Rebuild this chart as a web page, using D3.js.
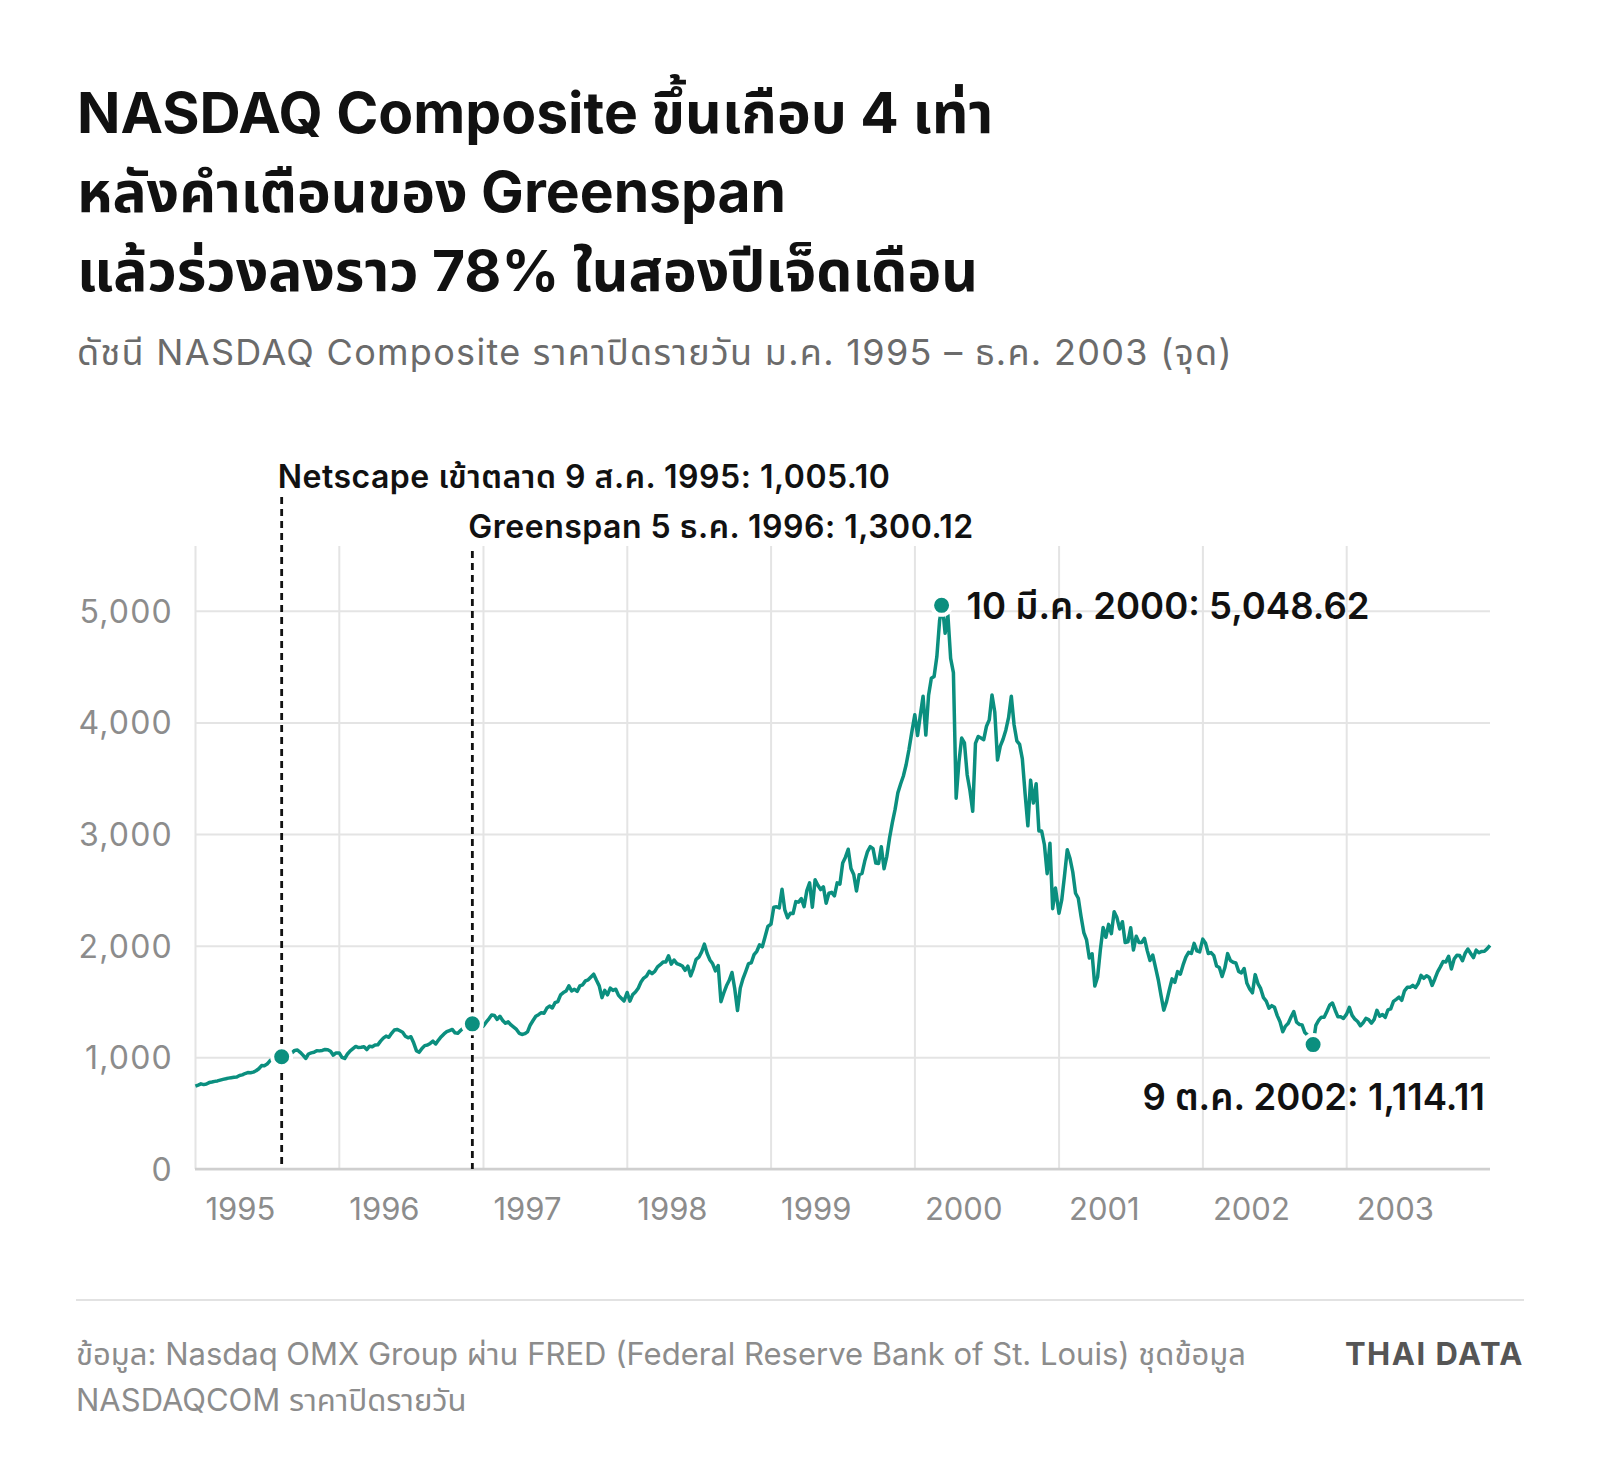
<!DOCTYPE html>
<html>
<head>
<meta charset="utf-8">
<script src="https://cdn.jsdelivr.net/npm/d3@7"></script>
<style>
  html, body { margin: 0; padding: 0; background: #fff; }
  svg text { font-family: Inter, "Noto Sans", "Noto Sans Thai", sans-serif; }
</style>
</head>
<body>
<svg id="chart" width="1600" height="1478"></svg>
<script>
// weekly closes, one value per week starting 2 Jan of each year
const years = [1995, 1996, 1997, 1998, 1999, 2000, 2001, 2002, 2003];
const w1995 = [743, 752, 763, 756, 761, 774, 779, 785, 789, 796, 803, 808, 814, 818, 822, 824, 838, 843, 855, 864, 862, 868, 880, 898, 926, 925,
  940, 968, 990, 978, 1001, 1004, 1005, 1012, 1020, 1040, 1062, 1066, 1045, 1020, 990, 1030, 1040, 1045, 1060, 1058, 1062, 1070, 1068, 1055, 1020, 1040];
const w1996 = [1040, 1000, 990, 1030, 1058, 1078, 1098, 1088, 1090, 1095, 1070, 1100, 1095, 1110, 1112, 1145, 1172, 1190, 1180, 1215, 1245, 1250, 1238, 1225, 1190, 1175,
  1185, 1130, 1060, 1045, 1080, 1105, 1110, 1125, 1145, 1120, 1155, 1185, 1210, 1230, 1240, 1250, 1220, 1215, 1240, 1262, 1280, 1290, 1300, 1270, 1265, 1295];
const w1997 = [1280, 1315, 1345, 1380, 1375, 1340, 1368, 1330, 1305, 1318, 1290, 1270, 1250, 1215, 1205, 1212, 1228, 1290, 1330, 1368, 1382, 1400, 1395, 1440, 1460, 1442,
  1490, 1500, 1560, 1580, 1594, 1640, 1595, 1610, 1590, 1640, 1650, 1685, 1695, 1720, 1745, 1690, 1640, 1535, 1600, 1560, 1620, 1600, 1610, 1555, 1530, 1505];
const w1998 = [1581, 1503, 1562, 1585, 1619, 1675, 1710, 1728, 1771, 1750, 1770, 1810, 1830, 1853, 1854, 1910, 1835, 1872, 1840, 1830, 1818, 1779, 1817, 1730, 1795, 1878,
  1897, 1945, 2014, 1930, 1872, 1838, 1775, 1823, 1499, 1575, 1641, 1690, 1760, 1614, 1419, 1620, 1706, 1771, 1840, 1847, 1920, 1950, 2008, 1990, 2080, 2172];
const w1999 = [2193, 2344, 2348, 2339, 2505, 2321, 2250, 2290, 2288, 2395, 2390, 2421, 2350, 2493, 2563, 2345, 2591, 2542, 2503, 2527, 2380, 2470, 2478, 2447, 2563, 2552,
  2741, 2793, 2864, 2692, 2638, 2490, 2637, 2648, 2758, 2843, 2887, 2869, 2740, 2736, 2887, 2690, 2801, 2967, 3102, 3221, 3369, 3448, 3520, 3621, 3753, 3904];
const w2000 = [4069, 3882, 4064, 4235, 3887, 4244, 4395, 4411, 4590, 4914, 5048, 4798, 4963, 4573, 4446, 3321, 3643, 3860, 3817, 3529, 3390, 3205, 3813, 3874, 3860, 3845,
  3966, 4023, 4246, 4094, 3663, 3787, 3849, 3930, 4042, 4234, 3979, 3835, 3803, 3673, 3361, 3074, 3483, 3278, 3451, 3028, 3027, 2904, 2645, 2917, 2332, 2517];
const w2001 = [2291, 2410, 2626, 2859, 2781, 2660, 2470, 2425, 2262, 2118, 2052, 1890, 1928, 1638, 1720, 1962, 2163, 2075, 2191, 2108, 2305, 2252, 2150, 2215, 2028, 2035,
  2160, 1962, 2084, 2029, 2029, 2066, 1956, 1867, 1916, 1805, 1695, 1555, 1423, 1499, 1605, 1703, 1671, 1768, 1745, 1828, 1898, 1941, 1930, 2021, 1953, 1945];
const w2002 = [2059, 2022, 1930, 1938, 1911, 1818, 1805, 1724, 1802, 1929, 1868, 1852, 1845, 1770, 1756, 1796, 1663, 1613, 1578, 1741, 1661, 1615, 1535, 1504, 1440, 1463,
  1448, 1374, 1319, 1229, 1280, 1306, 1361, 1410, 1315, 1295, 1291, 1222, 1199, 1139, 1114, 1287, 1331, 1360, 1359, 1411, 1468, 1487, 1422, 1363, 1363, 1348];
const w2003 = [1387, 1448, 1376, 1342, 1321, 1283, 1310, 1349, 1338, 1306, 1340, 1421, 1369, 1384, 1358, 1425, 1434, 1502, 1520, 1539, 1511, 1596, 1627, 1627, 1645, 1625,
  1664, 1734, 1708, 1731, 1715, 1644, 1702, 1765, 1810, 1858, 1855, 1905, 1792, 1880, 1915, 1912, 1865, 1932, 1970, 1930, 1893, 1960, 1937, 1949, 1951, 1974, 2003];
const weekly = [w1995, w1996, w1997, w1998, w1999, w2000, w2001, w2002, w2003];

const yTicks = [0, 1000, 2000, 3000, 4000, 5000];
const xTickYears = [1995, 1996, 1997, 1998, 1999, 2000, 2001, 2002, 2003];

const eventDates = ["1995-08-09", "1996-12-05"];
const eventValues = [1005.10, 1300.12];
const eventLabels = ["Netscape เข้าตลาด 9 ส.ค. 1995: 1,005.10", "Greenspan 5 ธ.ค. 1996: 1,300.12"];

const extremeDates = ["2000-03-10", "2002-10-09"];
const extremeValues = [5048.62, 1114.11];
const extremeLabels = ["10 มี.ค. 2000: 5,048.62", "9 ต.ค. 2002: 1,114.11"];

const titleLines = ["NASDAQ Composite ขึ้นเกือบ 4 เท่า", "หลังคำเตือนของ Greenspan", "แล้วร่วงลงราว 78% ในสองปีเจ็ดเดือน"];
const subtitle = "ดัชนี NASDAQ Composite ราคาปิดรายวัน ม.ค. 1995 – ธ.ค. 2003 (จุด)";
const sourceLines = ["ข้อมูล: Nasdaq OMX Group ผ่าน FRED (Federal Reserve Bank of St. Louis) ชุดข้อมูล", "NASDAQCOM ราคาปิดรายวัน"];
const brand = "THAI DATA";

const parseDate = d3.timeParse("%Y-%m-%d");
let series = [];
years.forEach((yr, k) => {
  weekly[k].forEach((v, i) => series.push({ date: new Date(yr, 0, 2 + 7 * i), value: v }));
});

const svg = d3.select("#chart");
const teal = "#0b8f7f";
const margin = { top: 546, right: 110, bottom: 309, left: 195 };
const width = +svg.attr("width");
const height = +svg.attr("height");
const innerWidth = width - margin.left - margin.right;
const innerHeight = height - margin.top - margin.bottom;

// titles
svg.append("g").selectAll("text")
  .data(titleLines).enter().append("text")
  .attr("x", 77)
  .attr("y", (d, i) => 133 + i * 79)
  .attr("font-size", 57)
  .attr("font-weight", 700)
  .attr("fill", "#111")
  .text(d => d);

svg.append("text")
  .attr("x", 77).attr("y", 365)
  .attr("font-size", 36)
  .attr("letter-spacing", 1.3)
  .attr("fill", "#6b6b6b")
  .text(subtitle);

const g = svg.append("g").attr("transform", `translate(${margin.left},${margin.top})`);

const x = d3.scaleTime()
  .domain([new Date(1995, 0, 1), new Date(2004, 0, 1)])
  .range([0, innerWidth]);
const y = d3.scaleLinear()
  .domain([0, 5580])
  .range([innerHeight, 0]);

// y gridlines + labels
const yAxis = g.append("g")
  .call(d3.axisLeft(y).tickValues(yTicks).tickSize(-innerWidth).tickPadding(22).tickFormat(d3.format(",")));
yAxis.select(".domain").remove();
yAxis.selectAll(".tick line").attr("stroke", "#e4e4e4").attr("stroke-width", 2);
yAxis.selectAll(".tick text")
  .attr("font-size", 32).attr("letter-spacing", 1.2).attr("fill", "#8c8c8c")
  .attr("dy", "0.36em");

// x gridlines + labels
const xAxis = g.append("g")
  .attr("transform", `translate(0,${innerHeight})`)
  .call(d3.axisBottom(x).tickValues(xTickYears.map(yr => new Date(yr, 0, 1))).tickSize(-innerHeight).tickFormat(d3.timeFormat("%Y")));
xAxis.select(".domain").remove();
xAxis.selectAll(".tick line").attr("stroke", "#e4e4e4").attr("stroke-width", 2);
xAxis.selectAll(".tick text")
  .attr("font-size", 31).attr("fill", "#8c8c8c")
  .attr("text-anchor", "start")
  .attr("x", 10).attr("y", 51).attr("dy", 0);

// baseline
g.append("line")
  .attr("x1", 0).attr("x2", innerWidth)
  .attr("y1", y(0)).attr("y2", y(0))
  .attr("stroke", "#cfcfcf").attr("stroke-width", 2.5);

// event lines
const eventTops = [-49, 5];
const eventLabelY = [-58, -8];
eventDates.forEach((d, i) => {
  const ex = x(parseDate(d));
  g.append("line")
    .attr("x1", ex).attr("x2", ex)
    .attr("y1", eventTops[i]).attr("y2", y(0))
    .attr("stroke", "#111").attr("stroke-width", 2.8)
    .attr("stroke-dasharray", "7,5");
  g.append("text")
    .attr("x", ex - 4).attr("y", eventLabelY[i])
    .attr("font-size", 32).attr("font-weight", 600).attr("letter-spacing", 0.5).attr("fill", "#111")
    .text(eventLabels[i]);
});

// the index line
const line = d3.line()
  .x(d => x(d.date))
  .y(d => y(d.value));
g.append("path")
  .datum(series)
  .attr("fill", "none")
  .attr("stroke", teal)
  .attr("stroke-width", 3.5)
  .attr("stroke-linejoin", "round")
  .attr("d", line);

// dots
const dots = eventDates.map((d, i) => ({ date: parseDate(d), value: eventValues[i] }))
  .concat(extremeDates.map((d, i) => ({ date: parseDate(d), value: extremeValues[i] })));
g.selectAll("circle.mark")
  .data(dots).enter().append("circle")
  .attr("class", "mark")
  .attr("cx", d => x(d.date))
  .attr("cy", d => y(d.value))
  .attr("r", 9.5)
  .attr("fill", teal)
  .attr("stroke", "#fff")
  .attr("stroke-width", 4);

// peak and trough labels
const pk = { x: x(parseDate(extremeDates[0])), y: y(extremeValues[0]) };
g.append("text")
  .attr("x", pk.x + 25).attr("y", pk.y + 14)
  .attr("font-size", 36.5).attr("font-weight", 600).attr("fill", "#111")
  .text(extremeLabels[0]);
const tr = { x: x(parseDate(extremeDates[1])), y: y(extremeValues[1]) };
g.append("text")
  .attr("x", innerWidth - 5).attr("y", tr.y + 65)
  .attr("text-anchor", "end")
  .attr("font-size", 36.5).attr("font-weight", 600).attr("fill", "#111")
  .text(extremeLabels[1]);

// footer
svg.append("line")
  .attr("x1", 76).attr("x2", 1524)
  .attr("y1", 1300).attr("y2", 1300)
  .attr("stroke", "#e2e2e2").attr("stroke-width", 2);
svg.append("g").selectAll("text")
  .data(sourceLines).enter().append("text")
  .attr("x", 76).attr("y", (d, i) => 1365 + i * 46)
  .attr("font-size", 31).attr("fill", "#8c8c8c")
  .text(d => d);
svg.append("text")
  .attr("x", 1524).attr("y", 1365)
  .attr("text-anchor", "end")
  .attr("font-size", 31).attr("font-weight", 700)
  .attr("letter-spacing", 1.5).attr("fill", "#555")
  .text(brand);
</script>
</body>
</html>
